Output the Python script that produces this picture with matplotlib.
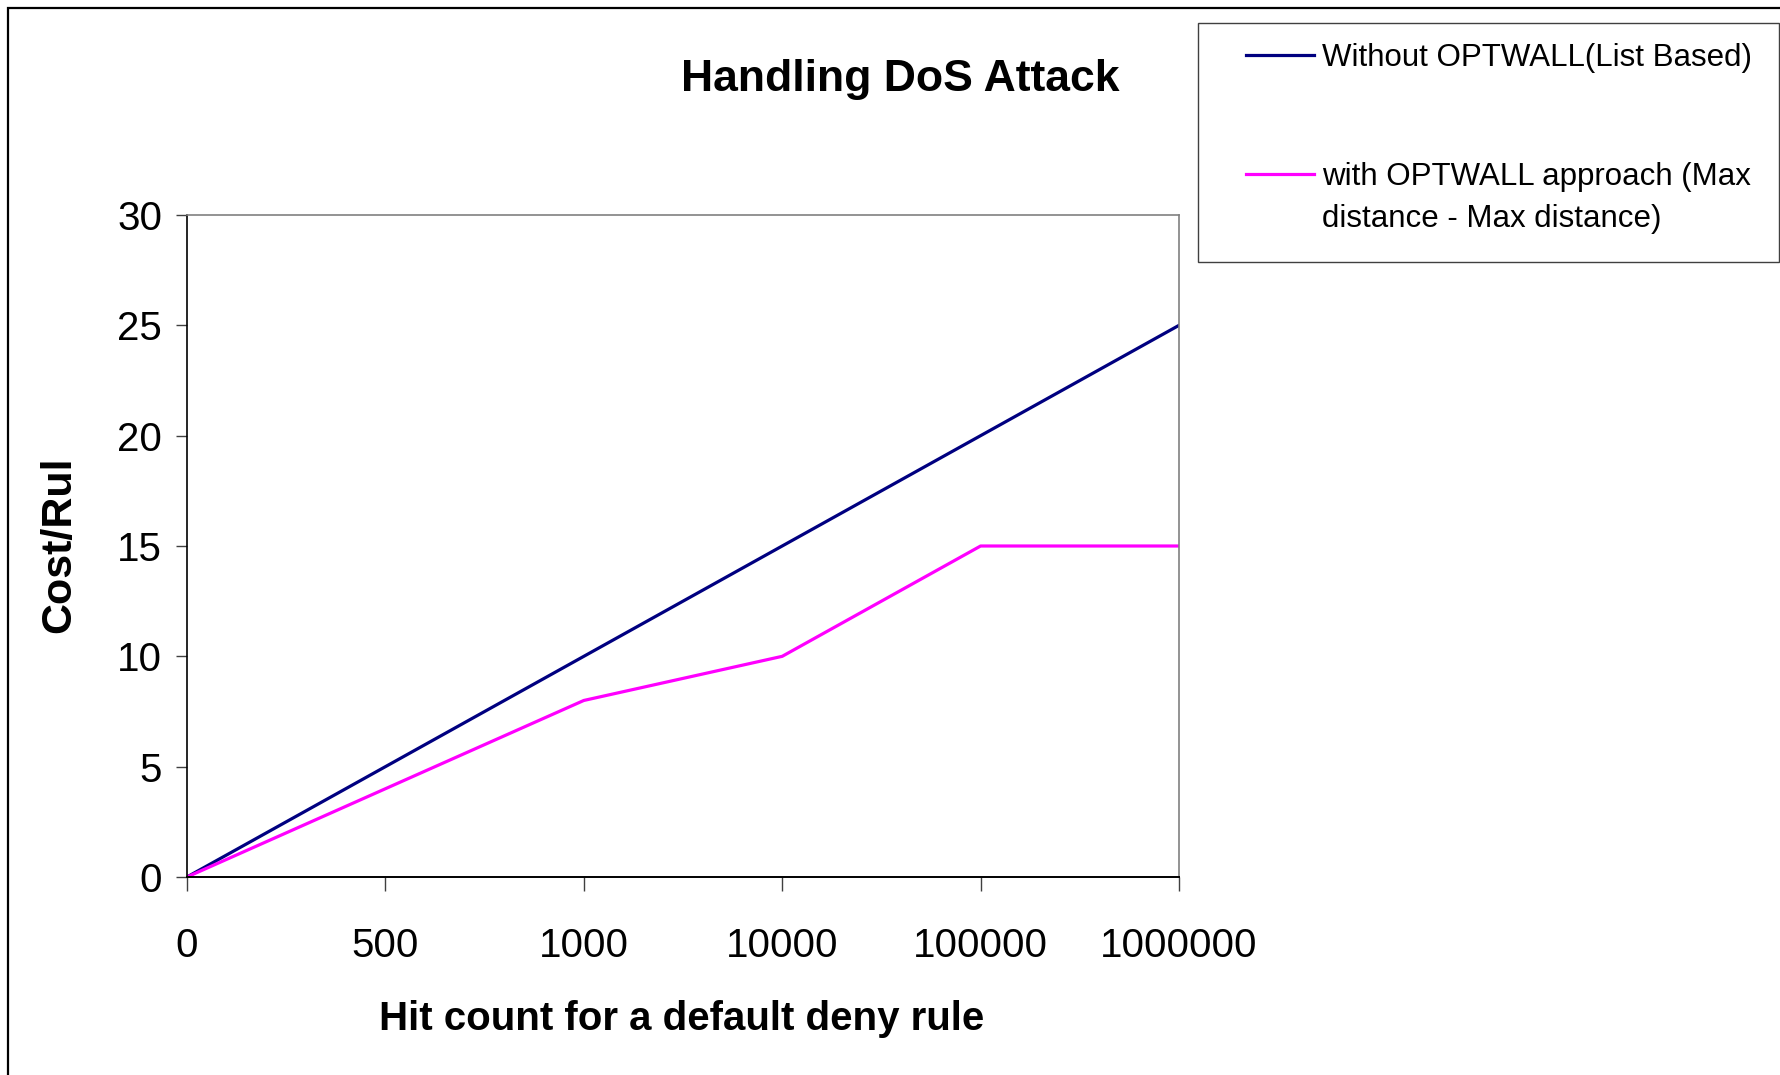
import matplotlib
matplotlib.use("Agg")
import matplotlib.pyplot as plt
from matplotlib.patches import Rectangle
from matplotlib.lines import Line2D

plt.rcParams['font.family'] = ['Liberation Sans', 'DejaVu Sans']

categories = ["0", "500", "1000", "10000", "100000", "1000000"]
without_optwall = [0, 5, 10, 15, 20, 25]
with_optwall = [0, 4, 8, 10, 15, 15]
series_names = ["Without OPTWALL(List Based)",
                "with OPTWALL approach (Max\ndistance - Max distance)"]
y_ticks = [0, 5, 10, 15, 20, 25, 30]

W, H = 1781, 1075
fig = plt.figure(figsize=(W / 100, H / 100), dpi=100)

def fx(px):
    return px / W

def fy(py):
    return 1 - py / H

# outer frame
fig.patches.append(Rectangle((fx(8), fy(H + 20)), 1.2, (H + 12) / H,
                             transform=fig.transFigure, fill=False,
                             edgecolor='black', linewidth=1.6))

ax = fig.add_axes([fx(187), fy(877), fx(1179) - fx(187), fy(215) - fy(877)])
x = list(range(len(categories)))
l1, = ax.plot(x, without_optwall, color='#000080', linewidth=2.3)
l2, = ax.plot(x, with_optwall, color='#FF00FF', linewidth=2.3)

ax.set_xlim(0, len(categories) - 1)
ax.set_ylim(0, 30)
ax.set_xticks(x)
ax.set_xticklabels(categories, fontsize=29)
ax.set_yticks(y_ticks)
ax.set_yticklabels([str(v) for v in y_ticks], fontsize=29)
ax.tick_params(axis='x', direction='out', length=10, width=1.0, color='#404040', pad=26)
ax.tick_params(axis='y', direction='out', length=8, width=1.0, color='#404040', pad=10)
for s in ax.spines.values():
    s.set_linewidth(1.2)
ax.spines['left'].set_color('black')
ax.spines['bottom'].set_color('black')
ax.spines['bottom'].set_linewidth(1.4)
ax.spines['top'].set_color('#808080')
ax.spines['right'].set_color('#808080')

fig.text(fx(900), fy(80), "Handling DoS Attack", fontsize=32,
         fontweight='bold', ha='center', va='center')
fig.text(fx(682), fy(1019), "Hit count for a default deny rule", fontsize=29,
         fontweight='bold', ha='center', va='center')
fig.text(fx(59), fy(545), "Cost/Rul", fontsize=31, fontweight='bold',
         rotation=90, ha='center', va='center')

# legend box
fig.patches.append(Rectangle((fx(1198), fy(262)), fx(1779) - fx(1198), fy(23) - fy(262),
                             transform=fig.transFigure, fill=False,
                             edgecolor='#404040', linewidth=1.0))
for line, name, yc in [(l1, series_names[0], 55), (l2, series_names[1], 174)]:
    fig.lines.append(Line2D([fx(1246), fx(1314)], [fy(yc), fy(yc)],
                            transform=fig.transFigure, color=line.get_color(),
                            linewidth=2.3))
    fig.text(fx(1322), fy(yc - 12), name, fontsize=22.5, ha='left', va='top',
             linespacing=1.52)

fig.savefig("out.png", dpi=100)
